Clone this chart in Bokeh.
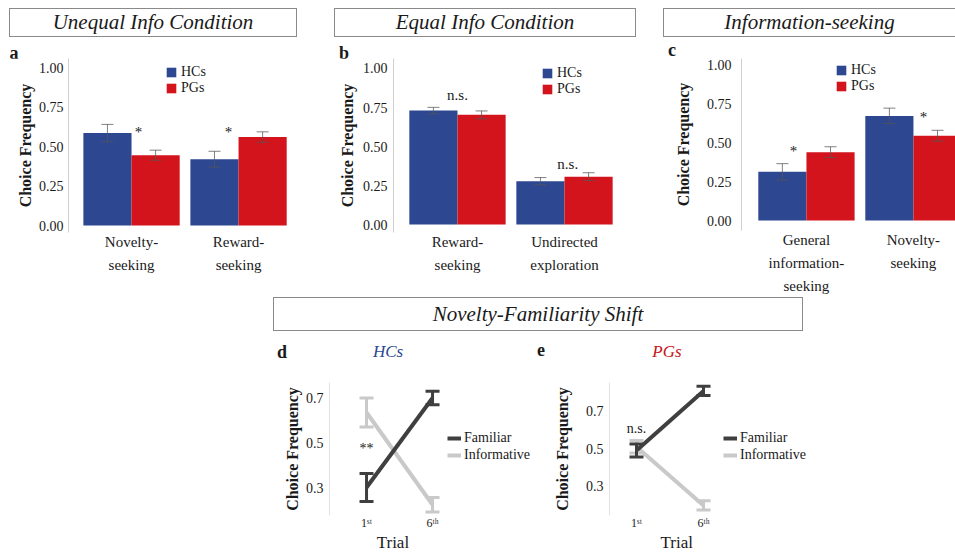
import numpy as np
from bokeh.plotting import figure
from bokeh.models import (ColumnDataSource, Whisker, TeeHead, Legend, LegendItem,
                          FixedTicker, NumeralTickFormatter, Range1d, Spacer, LinearAxis, Div)
from bokeh.layouts import row, column
from bokeh.core.properties import value
from bokeh.embed import file_html
from bokeh.resources import INLINE

SERIF = "Liberation Serif"
CSS_SERIF = "'Liberation Serif','DejaVu Serif',serif"
HC_COLOR = "#2d4791"
PG_COLOR = "#d3141d"
DARK = "#3f3f3f"
LIGHT = "#c9c9c9"
TXT = "#1a1a1a"

# ---------------- data ----------------
groups = ["HCs", "PGs"]

a_categories = ["Novelty-\nseeking", "Reward-\nseeking"]
a_hc = [0.585, 0.42]
a_hc_err = [0.055, 0.05]
a_pg = [0.445, 0.56]
a_pg_err = [0.032, 0.033]
a_sig = ["*", "*"]
a_sig_x = [1.065, 1.907]
a_sig_y = [0.595, 0.595]

b_categories = ["Reward-\nseeking", "Undirected\nexploration"]
b_hc = [0.73, 0.278]
b_hc_err = [0.021, 0.023]
b_pg = [0.703, 0.307]
b_pg_err = [0.025, 0.025]
b_sig = ["n.s.", "n.s."]
b_sig_x = [1.0, 2.03]
b_sig_y = [0.833, 0.391]

c_categories = ["General\ninformation-\nseeking", "Novelty-\nseeking"]
c_hc = [0.314, 0.675]
c_hc_err = [0.053, 0.05]
c_pg = [0.441, 0.547]
c_pg_err = [0.035, 0.035]
c_sig = ["*", "*"]
c_sig_x = [0.879, 2.093]
c_sig_y = [0.446, 0.669]

trial_labels = ["1\u02e2\u1d57", "6\u1d57\u02b0"]   # 1st, 6th
series = ["Familiar", "Informative"]
d_familiar = [0.30, 0.70]
d_familiar_err = [0.063, 0.03]
d_informative = [0.635, 0.223]
d_informative_err = [0.065, 0.032]
d_sig = ["**"]
d_sig_y = [0.475]
e_familiar = [0.49, 0.81]
e_familiar_err = [0.035, 0.025]
e_informative = [0.51, 0.195]
e_informative_err = [0.033, 0.025]
e_sig = ["n.s."]
e_sig_y = [0.61]


def title_box(text, width, height, right_border=True):
    rb = "1px solid #8a8a8a" if right_border else "none"
    html = ('<div style="box-sizing:border-box;width:%dpx;height:%dpx;border:1px solid #8a8a8a;'
            'border-right:%s;font-family:%s;font-style:italic;font-size:21px;'
            'line-height:%dpx;text-align:center;color:#1a1a1a;white-space:nowrap;overflow:hidden;">%s</div>'
            % (width, height, rb, CSS_SERIF, height - 2, text))
    return Div(text=html, width=width, height=height, margin=0)


def header(width, height, items):
    spans = []
    for (left, top, txt, size, weight, style, color, w) in items:
        spans.append('<span style="position:absolute;left:%dpx;top:%dpx;width:%dpx;text-align:center;'
                     'font-family:%s;font-size:%s;line-height:%s;font-weight:%s;font-style:%s;color:%s;">%s</span>'
                     % (left, top, w, CSS_SERIF, size, size, weight, style, color, txt))
    html = ('<div style="position:relative;width:%dpx;height:%dpx;">%s</div>'
            % (width, height, "".join(spans)))
    return Div(text=html, width=width, height=height, margin=0)


def base_style(p):
    p.background_fill_color = "white"
    p.border_fill_color = "white"
    p.outline_line_color = None
    p.xgrid.grid_line_color = None
    p.ygrid.grid_line_color = None
    for ax in (p.xaxis[0], p.yaxis[0]):
        ax.major_tick_line_color = None
        ax.minor_tick_line_color = None
        ax.major_tick_out = 0
        ax.major_tick_in = 0
        ax.minor_tick_out = 0
        ax.major_label_text_font = SERIF
        ax.major_label_text_color = TXT
        ax.axis_label_text_font = SERIF
        ax.axis_label_text_color = TXT
    p.xaxis.axis_line_color = None


def plain_axis(ax, size, standoff):
    ax.major_label_text_font = SERIF
    ax.major_label_text_font_size = size
    ax.major_label_text_color = TXT
    ax.major_label_standoff = standoff
    ax.axis_line_color = None
    ax.major_tick_line_color = None
    ax.minor_tick_line_color = None
    ax.major_tick_out = 0
    ax.major_tick_in = 0
    ax.minor_tick_out = 0


def style_yaxis(p, ticks, fmt, tick_standoff, label_standoff, line_color):
    p.yaxis.ticker = FixedTicker(ticks=ticks)
    p.yaxis.formatter = NumeralTickFormatter(format=fmt)
    p.yaxis.major_label_text_font_size = "14px"
    p.yaxis.major_label_standoff = tick_standoff
    p.yaxis.axis_label = "Choice Frequency"
    p.yaxis.axis_label_text_font_size = "16px"
    p.yaxis.axis_label_text_font_style = "bold"
    p.yaxis.axis_label_standoff = label_standoff
    p.yaxis.axis_line_color = line_color


def bar_panel(cats, hc, hc_err, pg, pg_err, sig, sig_x, sig_y,
              width, border_left, border_right, xr, yr, legend_xy, tick_standoff, label_standoff):
    p = figure(width=width, height=238, output_backend="svg", toolbar_location=None,
               x_range=Range1d(*xr), y_range=Range1d(*yr),
               min_border_left=border_left, min_border_right=border_right,
               min_border_top=0, min_border_bottom=64)
    base_style(p)
    idx = np.arange(1, len(cats) + 1)
    hc = np.array(hc); pg = np.array(pg)
    hc_err = np.array(hc_err); pg_err = np.array(pg_err)
    src_hc = ColumnDataSource(dict(x=idx - 0.225, top=hc, upper=hc + hc_err, lower=hc - hc_err))
    src_pg = ColumnDataSource(dict(x=idx + 0.225, top=pg, upper=pg + pg_err, lower=pg - pg_err))
    r1 = p.vbar(x="x", top="top", width=0.45, source=src_hc, fill_color=HC_COLOR, line_color=None)
    r2 = p.vbar(x="x", top="top", width=0.45, source=src_pg, fill_color=PG_COLOR, line_color=None)
    for src in (src_hc, src_pg):
        w = Whisker(base="x", upper="upper", lower="lower", source=src, level="overlay",
                    line_color="#555555", line_width=1, line_alpha=0.75,
                    upper_head=TeeHead(size=12, line_color="#555555", line_width=1, line_alpha=0.75),
                    lower_head=TeeHead(size=12, line_color="#555555", line_width=1, line_alpha=0.75))
        p.add_layout(w)
    p.text(x=sig_x, y=sig_y, text=sig, text_font=value(SERIF), text_font_size="15px",
           text_align="center", text_baseline="middle", text_color=TXT)

    # category labels: one axis per text line, stacked below the frame
    lines = [c.split("\n") for c in cats]
    nlines = max(len(l) for l in lines)
    axes = [p.xaxis[0]]
    for k in range(1, nlines):
        ax = LinearAxis()
        p.add_layout(ax, "below")
        axes.append(ax)
    for k, ax in enumerate(axes):
        ax.ticker = FixedTicker(ticks=list(idx))
        ax.major_label_overrides = {int(i): (l[k] if k < len(l) else " ") for i, l in zip(idx, lines)}
        plain_axis(ax, "15px", 1 if k == 0 else 4)

    style_yaxis(p, [0, 0.25, 0.5, 0.75, 1.0], "0.00", tick_standoff, label_standoff, "#cfcfcf")

    legend = Legend(items=[LegendItem(label=groups[0], renderers=[r1]),
                           LegendItem(label=groups[1], renderers=[r2])],
                    location=legend_xy, padding=0, margin=0, spacing=0,
                    glyph_width=12, glyph_height=12, label_height=12, label_standoff=4,
                    label_text_font=SERIF, label_text_font_size="14px", label_text_color=TXT,
                    border_line_color=None, background_fill_alpha=0)
    p.add_layout(legend)
    return p


def line_panel(fam, fam_err, inf, inf_err, sig, sig_y, trial_x,
               width, border_left, border_top, xr, yr, legend_xy,
               tick_standoff, label_standoff):
    p = figure(width=width, height=189, output_backend="svg", toolbar_location=None,
               x_range=Range1d(*xr), y_range=Range1d(*yr),
               min_border_left=border_left, min_border_right=0,
               min_border_top=border_top, min_border_bottom=34)
    base_style(p)
    x = np.arange(1, len(fam) + 1)
    fam = np.array(fam); inf = np.array(inf)
    fam_err = np.array(fam_err); inf_err = np.array(inf_err)
    src_f = ColumnDataSource(dict(x=x, y=fam, upper=fam + fam_err, lower=fam - fam_err))
    src_i = ColumnDataSource(dict(x=x, y=inf, upper=inf + inf_err, lower=inf - inf_err))
    ri = p.line("x", "y", source=src_i, line_color=LIGHT, line_width=4)
    rf = p.line("x", "y", source=src_f, line_color=DARK, line_width=4)
    for src, col in ((src_i, LIGHT), (src_f, DARK)):
        w = Whisker(base="x", upper="upper", lower="lower", source=src, level="overlay",
                    line_color=col, line_width=3,
                    upper_head=TeeHead(size=14, line_color=col, line_width=3),
                    lower_head=TeeHead(size=14, line_color=col, line_width=3))
        p.add_layout(w)
    p.text(x=[1], y=sig_y, text=sig, text_font=value(SERIF), text_font_size="14px",
           text_align="center", text_baseline="middle", text_color=TXT)

    p.xaxis.ticker = FixedTicker(ticks=list(x))
    p.xaxis.major_label_overrides = {int(i): t for i, t in zip(x, trial_labels)}
    plain_axis(p.xaxis[0], "12px", 0)
    tax = LinearAxis(ticker=FixedTicker(ticks=[trial_x]), major_label_overrides={trial_x: "Trial"})
    plain_axis(tax, "17px", 0)
    p.add_layout(tax, "below")

    style_yaxis(p, [0.3, 0.5, 0.7], "0.0", tick_standoff, label_standoff, "#e2e2e2")

    legend = Legend(items=[LegendItem(label=series[0], renderers=[rf]),
                           LegendItem(label=series[1], renderers=[ri])],
                    location=legend_xy, padding=0, margin=0, spacing=1,
                    glyph_width=14, glyph_height=16, label_height=16, label_standoff=3,
                    label_text_font=SERIF, label_text_font_size="14px", label_text_color=TXT,
                    border_line_color=None, background_fill_alpha=0)
    p.add_layout(legend)
    return p


# ---------------- top row ----------------
pa = bar_panel(a_categories, a_hc, a_hc_err, a_pg, a_pg_err, a_sig, a_sig_x, a_sig_y,
               312, 60, 20, (0.411, 2.579), (-0.044, 1.057), (97, 136), 5, 2)
pb = bar_panel(b_categories, b_hc, b_hc_err, b_pg, b_pg_err, b_sig, b_sig_x, b_sig_y,
               330, 73, 25, (0.402, 2.57), (-0.051, 1.064), (148, 135), 6, 4)
pc = bar_panel(c_categories, c_hc, c_hc_err, c_pg, c_pg_err, c_sig, c_sig_x, c_sig_y,
               305, 91, 0, (0.393, 2.393), (-0.064, 1.045), (94, 136), 10, 12)

col_a = column(row(Spacer(width=1, height=29, margin=0), title_box("Unequal Info Condition", 288, 29)),
               header(312, 21, [(0, 7, "a", "18px", "bold", "normal", TXT, 12)]),
               pa)
col_b = column(row(Spacer(width=14, height=29, margin=0), title_box("Equal Info Condition", 302, 29)),
               header(330, 21, [(18, 7, "b", "18px", "bold", "normal", TXT, 12)]),
               pb)
col_c = column(row(Spacer(width=13, height=29, margin=0),
                   title_box("Information-seeking", 292, 29, right_border=False)),
               header(305, 21, [(16, 4, "c", "18px", "bold", "normal", TXT, 12)]),
               pc)

# ---------------- bottom row ----------------
pd = line_panel(d_familiar, d_familiar_err, d_informative, d_informative_err, d_sig, d_sig_y, 1.4,
                265, 59, 17, (0.439, 3.56), (0.175, 0.769), (118, 52), 6, 2)
pe = line_panel(e_familiar, e_familiar_err, e_informative, e_informative_err, e_sig, e_sig_y, 1.6,
                420, 74, 8, (0.597, 5.761), (0.141, 0.855), (114, 52), 6, 12)

hdr_d = header(265, 34, [(6, 12, "d", "18px", "bold", "normal", TXT, 12),
                         (93, 12, "HCs", "17px", "normal", "italic", HC_COLOR, 50)])
hdr_e = header(420, 34, [(0, 10, "e", "18px", "bold", "normal", TXT, 12),
                         (107, 12, "PGs", "17px", "normal", "italic", "#c8141c", 50)])

content = column(
    Spacer(width=10, height=8, margin=0),
    row(col_a, col_b, col_c),
    Spacer(width=10, height=1, margin=0),
    row(Spacer(width=265, height=34, margin=0), title_box("Novelty-Familiarity Shift", 530, 34)),
    row(Spacer(width=262, height=34, margin=0), hdr_d, hdr_e),
    row(Spacer(width=262, height=189, margin=0), pd, pe),
)
layout = row(Spacer(width=8, height=10, margin=0), content)

open("out.html", "w").write(file_html(layout, INLINE))
